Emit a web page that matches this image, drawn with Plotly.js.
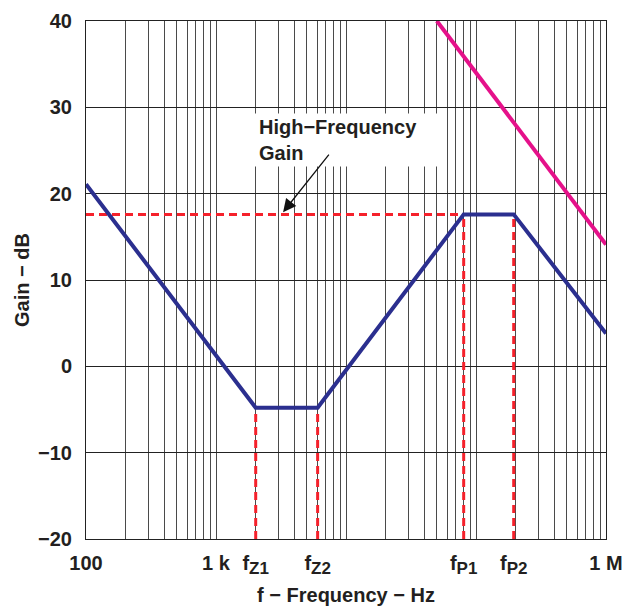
<!DOCTYPE html>
<html>
<head>
<meta charset="utf-8">
<script src="https://cdn.plot.ly/plotly-3.0.1.min.js"></script>
<style>html,body{margin:0;padding:0;background:#fff;}#chart{width:628px;height:606px;}</style>
</head>
<body>
<div id="chart"></div>
<script>
// ---- data ----
const fZ1 = 2020, fZ2 = 6050, fP1 = 80400, fP2 = 195000;
const hfGain = 17.6;
const midGain = -4.8;
const gainFreq = [100, fZ1, fZ2, fP1, fP2, 1e6];
const gainDb = [21.1, midGain, midGain, hfGain, hfGain, 3.8];
const openLoopFreq = [50000, 1e6];
const openLoopDb = [40, 14.1];
const markerFreqs = [fZ1, fZ2, fP1, fP2];
const markerGains = [midGain, midGain, hfGain, hfGain];
const tickVals = [100, 1000, fZ1, fZ2, fP1, fP2, 1e6];
const subNames = ['Z1', 'Z2', 'P1', 'P2'];
const yMin = -20, yMax = 40;

// ---- build ----
const sub = s => 'f<sub><span style="font-size:17px">' + s + '</span></sub>';
const tickText = ['100', '1 k'].concat(subNames.map(sub), ['1 M']);
const vx = [], vy = [];
markerFreqs.forEach((f, i) => { vx.push(f, f, null); vy.push(yMin, markerGains[i], null); });

const FONT = 'Liberation Sans, Arial, Helvetica, sans-serif';
const FS = 20;
const TXT = '#231f20';
const red = '#f5212b';
const bold = {family: FONT, size: FS, color: TXT, weight: 'bold'};
const traces = [
  {x: [100, fP1], y: [hfGain, hfGain], mode: 'lines', line: {color: red, width: 3, dash: '8px,5px'}, hoverinfo: 'skip'},
  {x: vx, y: vy, mode: 'lines', line: {color: red, width: 3, dash: '8px,5px'}, hoverinfo: 'skip'},
  {x: gainFreq, y: gainDb, mode: 'lines', line: {color: '#2b2f8f', width: 4}},
  {x: openLoopFreq, y: openLoopDb, mode: 'lines', line: {color: '#e5118a', width: 4}},
  {x: [100, 1e6], y: [null, null], xaxis: 'x2', mode: 'lines', hoverinfo: 'skip'}
];

const layout = {
  width: 628, height: 606,
  margin: {l: 86, r: 22, t: 21, b: 67},
  showlegend: false,
  paper_bgcolor: '#fff', plot_bgcolor: '#fff',
  font: bold,
  xaxis: {
    type: 'log', range: [2, 6], dtick: 'D1', showticklabels: false, ticks: '',
    showgrid: true, gridcolor: '#4a4a4a', gridwidth: 1,
    showline: true, mirror: true, linecolor: '#222', linewidth: 1, zeroline: false
  },
  xaxis2: {
    type: 'log', range: [2, 6], overlaying: 'x', side: 'bottom', anchor: 'y',
    tickmode: 'array', tickvals: tickVals, ticktext: tickText, showgrid: false,
    ticks: '', ticklabelstandoff: 10, zeroline: false, showline: false,
    tickfont: bold,
    title: {text: 'f − Frequency − Hz', standoff: 10, font: bold}
  },
  yaxis: {
    range: [yMin, yMax], dtick: 10, tick0: 0, ticks: '', ticklabelstandoff: 9,
    showgrid: true, gridcolor: '#222', gridwidth: 1, zeroline: false,
    showline: true, mirror: true, linecolor: '#222', linewidth: 1,
    tickfont: bold,
    title: {text: 'Gain − dB', standoff: 3, font: bold}
  },
  annotations: [
    {xref: 'paper', yref: 'paper', x: 0.323, y: 0.822, xanchor: 'left', yanchor: 'top',
     text: 'High−Frequency<br>Gain', align: 'left', showarrow: false, bgcolor: '#fff',
     width: 178, height: 44, borderpad: 4, font: bold},
    {xref: 'paper', yref: 'paper', x: 0.379, y: 0.631, text: '', showarrow: true,
     ax: 47, ay: -59, arrowhead: 2, arrowsize: 2, arrowwidth: 1.3, arrowcolor: '#111'}
  ]
};

Plotly.newPlot('chart', traces, layout, {staticPlot: true, displayModeBar: false});
</script>
</body>
</html>
